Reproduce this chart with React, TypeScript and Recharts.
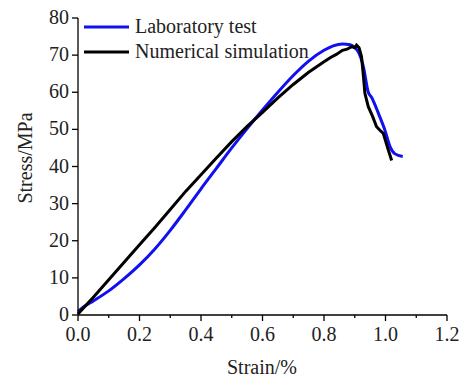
import { LineChart, Line, XAxis, YAxis, Legend } from "recharts";

const labStrain = [0, 0.02, 0.05, 0.1, 0.15, 0.2, 0.25, 0.3, 0.35, 0.4, 0.45, 0.5, 0.55, 0.6, 0.65, 0.7, 0.75, 0.8, 0.83, 0.86, 0.885, 0.9, 0.912, 0.928, 0.944, 0.955, 0.977, 0.998, 1.015, 1.031, 1.056];
const labStress = [1.0, 2.3, 3.8, 6.5, 9.8, 13.5, 17.8, 22.8, 28.3, 34.0, 39.5, 45.0, 50.2, 55.2, 60.0, 64.5, 68.4, 71.3, 72.5, 73.0, 72.8, 72.0, 70.8, 66.9, 60.0, 58.6, 54.3, 49.8, 45.3, 43.4, 42.7];

const simStrain = [0, 0.05, 0.1, 0.15, 0.2, 0.25, 0.3, 0.35, 0.4, 0.45, 0.5, 0.55, 0.6, 0.65, 0.7, 0.75, 0.8, 0.82, 0.84, 0.86, 0.875, 0.89, 0.9, 0.906, 0.914, 0.922, 0.928, 0.933, 0.944, 0.958, 0.971, 0.985, 0.993, 1.006, 1.02];
const simStress = [0.3, 4.8, 9.5, 14.2, 18.9, 23.6, 28.4, 33.3, 37.8, 42.3, 46.7, 50.8, 54.6, 58.5, 62.1, 65.4, 68.2, 69.3, 70.2, 71.3, 71.6, 72.3, 72.0, 72.7, 72.0, 69.6, 64.5, 59.7, 56.1, 53.5, 50.7, 49.5, 48.9, 45.3, 41.6];

const xTicks = [0, 0.1, 0.2, 0.3, 0.4, 0.5, 0.6, 0.7, 0.8, 0.9, 1.0, 1.1, 1.2];
const yTicks = [0, 5, 10, 15, 20, 25, 30, 35, 40, 45, 50, 55, 60, 65, 70, 75, 80];

const labData = labStrain.map((x, i) => ({ x, y: labStress[i] }));
const simData = simStrain.map((x, i) => ({ x, y: simStress[i] }));

const font = "Liberation Serif, Times New Roman, serif";

function XTick({ x, y, payload }: any) {
  const major = Math.round(payload.value * 10) % 2 === 0;
  return (
    <g>
      <line x1={x} x2={x} y1={y} y2={y + (major ? 6 : 3)} stroke="#000" strokeWidth={1.3} />
      {major && (
        <text x={x} y={y + 26} textAnchor="middle" fontSize={20} fontFamily={font} fill="#222">
          {payload.value.toFixed(1)}
        </text>
      )}
    </g>
  );
}

function YTick({ x, y, payload }: any) {
  const major = payload.value % 10 === 0;
  return (
    <g>
      <line x1={x - (major ? 6 : 3)} x2={x} y1={y} y2={y} stroke="#000" strokeWidth={1.3} />
      {major && (
        <text x={x - 9} y={y + 6} textAnchor="end" fontSize={20} fontFamily={font} fill="#222">
          {payload.value}
        </text>
      )}
    </g>
  );
}

function LegendBox() {
  const items = [
    { label: "Laboratory test", color: "#1010f0" },
    { label: "Numerical simulation", color: "#000" },
  ];
  return (
    <div style={{ fontFamily: font, fontSize: 20, color: "#222" }}>
      {items.map((it) => (
        <div key={it.label} style={{ display: "flex", alignItems: "center", height: 25 }}>
          <svg width={50} height={10}>
            <line x1={2} x2={47} y1={5} y2={5} stroke={it.color} strokeWidth={3} />
          </svg>
          <span style={{ marginLeft: 3 }}>{it.label}</span>
        </div>
      ))}
    </div>
  );
}

export default function App() {
  return (
    <div style={{ position: "absolute", left: 0, top: 0, background: "#fff" }}>
      <LineChart width={470} height={381} margin={{ top: 18, right: 23, bottom: 0, left: 0 }}>
        <XAxis
          type="number"
          dataKey="x"
          domain={[0, 1.2]}
          ticks={xTicks}
          tick={<XTick />}
          tickLine={false}
          tickSize={0}
          tickMargin={0}
          height={66}
          stroke="#000"
          strokeWidth={1.3}
          allowDuplicatedCategory={false}
          label={{
            content: () => (
              <text x={262} y={374} textAnchor="middle" fontSize={20} fontFamily={font} fill="#222">
                Strain/%
              </text>
            ),
          }}
        />
        <YAxis
          type="number"
          dataKey="y"
          domain={[0, 80]}
          ticks={yTicks}
          tick={<YTick />}
          tickLine={false}
          tickSize={0}
          tickMargin={0}
          width={78}
          stroke="#000"
          strokeWidth={1.3}
          label={{
            content: () => (
              <text
                x={25}
                y={158}
                textAnchor="middle"
                dominantBaseline="central"
                transform="rotate(-90 25 158)"
                fontSize={20}
                fontFamily={font}
                fill="#222"
              >
                Stress/MPa
              </text>
            ),
          }}
        />
        <Legend
          layout="vertical"
          align="center"
          verticalAlign="middle"
          content={() => <LegendBox />}
          wrapperStyle={{ left: 82, top: 14, width: "auto" }}
        />
        <Line
          data={labData}
          dataKey="y"
          name="Laboratory test"
          stroke="#1010f0"
          strokeWidth={3}
          dot={false}
          type="monotone"
          isAnimationActive={false}
        />
        <Line
          data={simData}
          dataKey="y"
          name="Numerical simulation"
          stroke="#000"
          strokeWidth={3}
          dot={false}
          type="linear"
          isAnimationActive={false}
        />
      </LineChart>
    </div>
  );
}
